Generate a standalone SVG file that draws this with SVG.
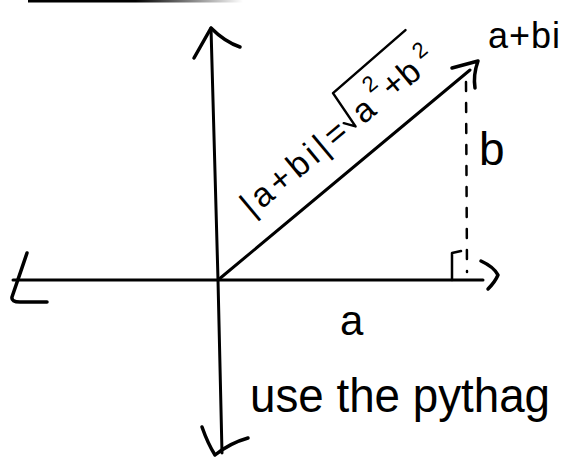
<svg xmlns="http://www.w3.org/2000/svg" width="564" height="458" viewBox="0 0 564 458">
<style>
.ln{fill:none;stroke:#000;stroke-width:3;stroke-linecap:round;stroke-linejoin:round}
.hd{fill:none;stroke:#000;stroke-width:3.5;stroke-linecap:round;stroke-linejoin:round}
.ds{fill:none;stroke:#000;stroke-width:2.5;stroke-linecap:round;stroke-dasharray:9 12}
.t{font-family:"Liberation Sans","DejaVu Sans",sans-serif;fill:#000}
</style>
<defs>
<linearGradient id="bar" x1="0" x2="1" y1="0" y2="0">
<stop offset="0" stop-color="#000"/>
<stop offset="0.5" stop-color="#000"/>
<stop offset="1" stop-color="#000" stop-opacity="0"/>
</linearGradient>
</defs>
<rect x="28" y="0" width="215" height="2.5" fill="url(#bar)"/>
<g id="connectors">
<g id="x-axis">
<path class="ln" d="M13,280 L483,280"/>
<path class="hd" d="M27,253 C22,268 15,288 12,297 Q11,302 20,302 L47,302"/>
<path class="hd" d="M481,261 Q494,267 498,275 Q495,282 488,289"/>
</g>
<g id="y-axis">
<path class="ln" d="M211,28 L218,280 L222,453"/>
<path class="hd" d="M194,58 L211,28 Q225,42 240,47"/>
<path class="hd" d="M202,427 Q208,444 215,455 Q230,443 248,438"/>
</g>
<g id="vector">
<path class="ln" d="M218,280 L470,70"/>
<path class="hd" d="M452,68 L478,61 Q473,75 475,88"/>
</g>
<g id="height">
<path class="ds" d="M466,82 L467,272"/>
<path class="ln" d="M452,280 L452,253 L461,251" style="stroke-width:2.5"/>
</g>
</g>
<g id="label-modulus" transform="translate(218,280) rotate(-39.8)">
<text class="t" x="66" y="-26" font-size="34" textLength="128">|a+bi|=</text>
<path class="ln" d="M197,-40 L204,-30 L208,-70 L304,-72" style="stroke-width:2.5"/>
<text class="t" x="211" y="-26" font-size="34">a</text>
<text class="t" x="236" y="-46" font-size="22">2</text>
<text class="t" x="250" y="-27" font-size="34">+</text>
<text class="t" x="270" y="-26" font-size="34">b</text>
<text class="t" x="296" y="-40" font-size="22">2</text>
</g>
<g id="label-z"><text class="t" x="488" y="48" font-size="36" textLength="72">a+bi</text></g>
<g id="label-b"><text class="t" x="479" y="165" font-size="46" textLength="24">b</text></g>
<g id="label-a"><text class="t" x="340" y="335" font-size="42" textLength="32">a</text></g>
<g id="note"><text class="t" x="250" y="412" font-size="48" textLength="300" lengthAdjust="spacingAndGlyphs">use the pythag</text></g>
</svg>
